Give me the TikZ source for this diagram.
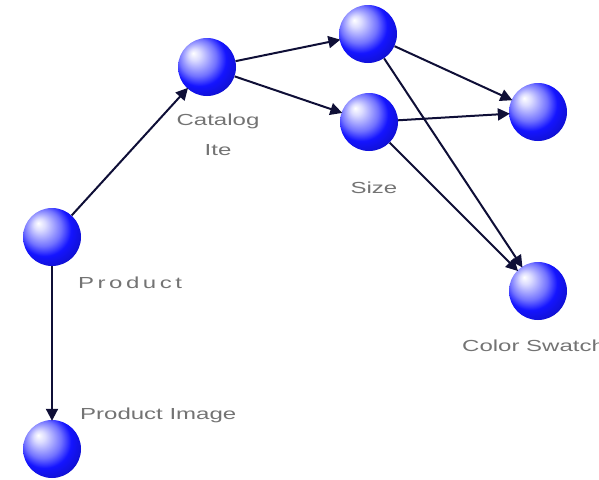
\documentclass[tikz,border=0pt]{standalone}
\usepackage{fontspec}
\usepackage{tikz}
\usetikzlibrary{arrows.meta,shapes,positioning,shadows}
\usepackage{xcolor}
\newfontfamily\lblfont{Liberation Sans}[FakeStretch=1.5]
\definecolor{ballblue}{RGB}{20,20,255}
\definecolor{linknavy}{RGB}{15,15,55}
\definecolor{lblgray}{RGB}{115,115,115}
\pgfdeclareradialshading{sphere}{\pgfpoint{-12bp}{12bp}}{%
  color(0bp)=(white); color(5bp)=(white!85!ballblue); color(16bp)=(ballblue!60!white);
  color(23bp)=(ballblue); color(30bp)=(ballblue!85!black); color(37bp)=(ballblue!45!black);
  color(50bp)=(ballblue!45!black)}
\tikzstyle{ball} = [circle, minimum size=58pt, inner sep=0pt, shading=sphere]
\tikzstyle{link} = [line width=2pt, color=linknavy, -{Triangle[length=12pt,width=12pt]}, shorten >=-1pt]
\tikzstyle{lbl} = [text=lblgray, font=\lblfont\fontsize{16}{30}\selectfont, inner sep=0pt]

\begin{document}
\begin{tikzpicture}[x=1pt, y=-1pt]
\useasboundingbox (0,0) rectangle (599,479);
% Entities
\node[ball] (product) at (52,237) {};
\node[ball] (image) at (52,449) {};
\node[ball] (catalog) at (207,67) {};
\node[ball] (topsize) at (368,34) {};
\node[ball] (size) at (369,122) {};
\node[ball] (rightball) at (538,112) {};
\node[ball] (swatch) at (538,291) {};

% Links
\draw[link] (product) -- (catalog);
\draw[link] (product) -- (image);
\draw[link] (catalog) -- (topsize);
\draw[link] (catalog) -- (size);
\draw[link] (topsize) -- (rightball);
\draw[link] (topsize) -- (swatch);
\draw[link] (size) -- (rightball);
\draw[link] (size) -- (swatch);

% Labels
\node[lbl, anchor=west, font=\lblfont\fontsize{16}{30}\addfontfeatures{LetterSpace=22}\selectfont] (productlbl) at (78,283) {Product};
\node[lbl, anchor=west] (imagelbl) at (80,415) {Product Image};
\node[lbl, align=center] (cataloglbl) at (218,135) {Catalog\\Ite};
\node[lbl] (sizelbl) at (374,188) {Size};
\node[lbl, anchor=west] (swatchlbl) at (462,346) {Color Swatch};
\end{tikzpicture}
\end{document}
